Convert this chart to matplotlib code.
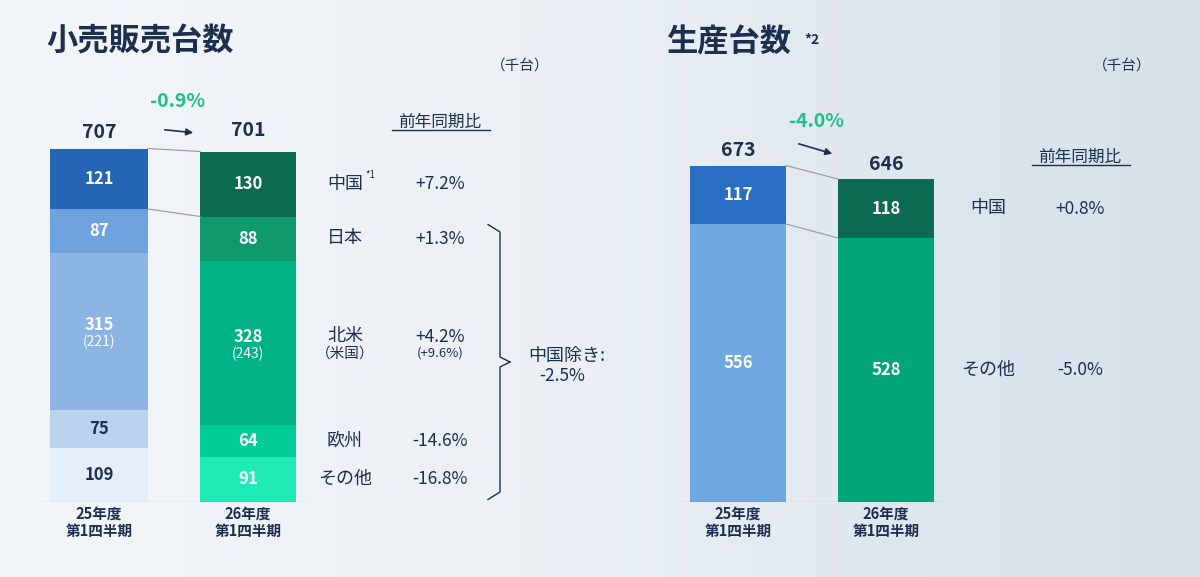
import numpy as np
import matplotlib.pyplot as plt
from matplotlib.patches import FancyArrowPatch

plt.rcParams['font.family'] = ['Noto Sans CJK JP', 'DejaVu Sans']

# data (thousand units)
sales_regions = ["中国", "日本", "北米", "欧州", "その他"]
sales_25 = [121, 87, 315, 75, 109]
sales_26 = [130, 88, 328, 64, 91]
sales_yoy = ["+7.2%", "+1.3%", "+4.2%", "-14.6%", "-16.8%"]
us_25, us_26, us_yoy = 221, 243, "(+9.6%)"
prod_regions = ["中国", "その他"]
prod_25 = [117, 556]
prod_26 = [118, 528]
prod_yoy = ["+0.8%", "-5.0%"]
periods = ["25年度\n第1四半期", "26年度\n第1四半期"]

c25 = ["#2466b5", "#6ea2dc", "#8cb5e3", "#bad4f0", "#e4eef9"]
c26 = ["#0b6a4f", "#0f9a6e", "#00b386", "#00cc98", "#1eebb5"]
p25 = ["#2a6ec4", "#6fa7e0"]
p26 = ["#0b6a4f", "#00a57a"]
navy = "#1d2f4f"

fig = plt.figure(figsize=(12, 5.77), dpi=100)
bg = fig.add_axes([0, 0, 1, 1])
g = np.linspace(0, 1, 256)
grad = np.outer(np.ones(10), g)
bg.imshow(grad, aspect="auto", cmap=plt.matplotlib.colors.LinearSegmentedColormap.from_list("b", ["#f3f6f9", "#e9eff4", "#d5e0e9"]), extent=[0, 1, 0, 1])
bg.axis("off")

H = 400 / 577
B = 1 - 502 / 577

def stacked(ax, xs, width, vals, cols):
    bottoms = []
    b = 0
    for v, c in zip(vals[::-1], cols[::-1]):
        ax.bar(xs, v, width, bottom=b, color=c, linewidth=0)
        bottoms.append(b)
        b += v
    return bottoms[::-1]

# left chart
ax = fig.add_axes([0, B, 0.5, H])
ax.set_xlim(0, 600); ax.set_ylim(0, 800); ax.axis("off")
b25 = stacked(ax, 99, 98, sales_25, c25)
b26 = stacked(ax, 248, 96, sales_26, c26)
for i, v in enumerate(sales_25):
    col = navy if i >= 3 else "white"
    ax.text(99, b25[i] + v / 2 + (12 if i == 2 else 0), str(v), ha="center", va="center", color=col, fontsize=12, fontweight="bold")
for i, v in enumerate(sales_26):
    ax.text(248, b26[i] + v / 2 + (12 if i == 2 else 0), str(v), ha="center", va="center", color="white", fontsize=12, fontweight="bold")
ax.text(99, b25[2] + sales_25[2] / 2 - 22, f"({us_25})", ha="center", va="center", color="white", fontsize=10)
ax.text(248, b26[2] + sales_26[2] / 2 - 22, f"({us_26})", ha="center", va="center", color="white", fontsize=10)
ax.plot([148, 200], [sum(sales_25), sum(sales_26)], color="#999", lw=0.8)
ax.plot([148, 200], [b25[0], b26[0]], color="#999", lw=0.8)
ax.text(99, sum(sales_25) + 20, str(sum(sales_25)), ha="center", fontsize=14, fontweight="bold", color=navy)
ax.text(248, sum(sales_26) + 32, str(sum(sales_26)), ha="center", fontsize=14, fontweight="bold", color=navy)
ax.add_patch(FancyArrowPatch((162, 745), (196, 738), arrowstyle="-|>", mutation_scale=10, color=navy, lw=1.2))
ax.text(178, 790, "-0.9%", ha="center", fontsize=14, fontweight="bold", color="#1fbf85")
ax.text(440, 750, "前年同期比", ha="center", fontsize=12, color=navy)
ax.plot([392, 490], [744, 744], color=navy, lw=1)
for i, r in enumerate(sales_regions):
    y = b26[i] + sales_26[i] / 2 + (12 if i == 2 else 0)
    ax.text(345, y, r, ha="center", va="center", fontsize=13, color=navy)
    ax.text(440, y, sales_yoy[i], ha="center", va="center", fontsize=12.5, color=navy)
ax.text(345, b26[2] + sales_26[2] / 2 - 22, "（米国）", ha="center", va="center", fontsize=10.5, color=navy)
ax.text(440, b26[2] + sales_26[2] / 2 - 22, us_yoy, ha="center", va="center", fontsize=9.5, color=navy)
ax.text(365, b26[0] + sales_26[0] / 2 + 12, "*1", fontsize=7, color=navy)
# brace
yt, yb = 555, 5
ym = (yt + yb) / 2
ax.plot([488, 500, 500, 510], [yt, yt - 15, ym + 10, ym], color=navy, lw=1)
ax.plot([488, 500, 500, 510], [yb, yb + 15, ym - 10, ym], color=navy, lw=1)
ax.text(567, ym + 12, "中国除き:", ha="center", va="center", fontsize=13, color=navy)
ax.text(562, ym - 28, "-2.5%", ha="center", va="center", fontsize=12.5, color=navy)
ax.plot([40, 305], [0, 0], color="#777", lw=0.8)
for xc, p in zip([99, 248], periods):
    ax.text(xc, -8, p, ha="center", va="top", fontsize=10.5, fontweight="bold", color=navy, linespacing=1.1)

# right chart
ax2 = fig.add_axes([0.5, B, 0.5, H])
ax2.set_xlim(600, 1200); ax2.set_ylim(0, 800); ax2.axis("off")
q25 = stacked(ax2, 738, 96, prod_25, p25)
q26 = stacked(ax2, 886, 96, prod_26, p26)
for i, v in enumerate(prod_25):
    ax2.text(738, q25[i] + v / 2, str(v), ha="center", va="center", color="white", fontsize=12, fontweight="bold")
for i, v in enumerate(prod_26):
    ax2.text(886, q26[i] + v / 2, str(v), ha="center", va="center", color="white", fontsize=12, fontweight="bold")
    ax2.text(988, q26[i] + v / 2, prod_regions[i], ha="center", va="center", fontsize=13, color=navy)
    ax2.text(1080, q26[i] + v / 2, prod_yoy[i], ha="center", va="center", fontsize=12.5, color=navy)
ax2.plot([786, 838], [sum(prod_25), sum(prod_26)], color="#999", lw=0.8)
ax2.plot([786, 838], [q25[0], q26[0]], color="#999", lw=0.8)
ax2.text(738, sum(prod_25) + 18, str(sum(prod_25)), ha="center", fontsize=14, fontweight="bold", color=navy)
ax2.text(886, sum(prod_26) + 18, str(sum(prod_26)), ha="center", fontsize=14, fontweight="bold", color=navy)
ax2.add_patch(FancyArrowPatch((796, 718), (835, 695), arrowstyle="-|>", mutation_scale=10, color=navy, lw=1.2))
ax2.text(816, 750, "-4.0%", ha="center", fontsize=14, fontweight="bold", color="#1fbf85")
ax2.text(1080, 680, "前年同期比", ha="center", fontsize=12, color=navy)
ax2.plot([1032, 1130], [674, 674], color=navy, lw=1)
ax2.plot([680, 945], [0, 0], color="#777", lw=0.8)
for xc, p in zip([738, 886], periods):
    ax2.text(xc, -8, p, ha="center", va="top", fontsize=10.5, fontweight="bold", color=navy, linespacing=1.1)

fig.text(46 / 1200, 1 - 42 / 577, "小売販売台数", fontsize=22.5, fontweight="bold", color=navy, va="center")
fig.text(666 / 1200, 1 - 42 / 577, "生産台数", fontsize=22.5, fontweight="bold", color=navy, va="center")
fig.text(804 / 1200, 1 - 40 / 577, "*2", fontsize=10, fontweight="bold", color=navy, va="center")
fig.text(520 / 1200, 1 - 66 / 577, "（千台）", fontsize=10.5, color=navy, ha="center", va="center")
fig.text(1122 / 1200, 1 - 66 / 577, "（千台）", fontsize=10.5, color=navy, ha="center", va="center")

fig.savefig("out.png", dpi=100)
